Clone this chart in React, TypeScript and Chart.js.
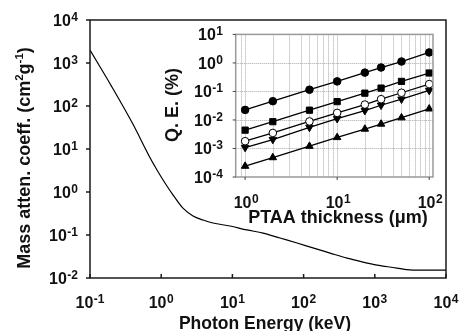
import React, { useEffect, useRef } from "react";
import { Chart, registerables } from "chart.js";
Chart.register(...registerables);

// Main curve: mass attenuation coefficient vs photon energy
const energyKeV = [0.1, 0.2, 0.4, 0.7, 0.873, 1.13, 1.47, 2.02, 2.8, 3.87, 5.34, 9.25, 16, 27, 46.7, 81, 135, 235, 407, 682, 1075, 1630, 3440, 10000];
const massAtten = [2000, 290, 38, 6.2, 3.25, 1.62, 0.85, 0.42, 0.277, 0.223, 0.19, 0.162, 0.131, 0.111, 0.085, 0.065, 0.05, 0.038, 0.029, 0.0235, 0.02, 0.018, 0.0153, 0.0153];

// Inset: Q.E. vs PTAA thickness
const thicknessUm = [1, 2, 5, 10, 20, 30, 50, 100];
const qeFilledCircle = [0.0225, 0.0455, 0.115, 0.225, 0.457, 0.69, 1.12, 2.33];
const qeFilledSquare = [0.0044, 0.0087, 0.022, 0.044, 0.087, 0.131, 0.225, 0.443];
const qeOpenCircle = [0.0018, 0.0035, 0.0089, 0.0177, 0.0347, 0.0535, 0.09, 0.181];
const qeDownTriangle = [0.00108, 0.00206, 0.0055, 0.0111, 0.0213, 0.0328, 0.0535, 0.108];
const qeUpTriangle = [0.00024, 0.00048, 0.0012, 0.00244, 0.0048, 0.0072, 0.012, 0.0245];

// Tick exponents
const mainXExp = [-1, 0, 1, 2, 3, 4];
const mainYExp = [-2, -1, 0, 1, 2, 3, 4];
const insetXExp = [0, 1, 2];
const insetYExp = [-4, -3, -2, -1, 0, 1];
const insetGridX = [0.9, 1, 2, 3, 4, 5, 6, 7, 8, 9, 10, 20, 30, 40, 50, 60, 70, 80, 90, 100];
const insetGridY = [1e-3, 1e-2, 1e-1, 1];

const FAM = '"Liberation Sans", Arial, Helvetica, sans-serif';
const TXT = "#111";

function drawPow(ctx: CanvasRenderingContext2D, exp: number, x: number, baseline: number, align: "center" | "right", baseSize = 16, expSize = 12, raise = 5) {
  const baseFont = `bold ${baseSize}px ${FAM}`;
  const expFont = `bold ${expSize}px ${FAM}`;
  ctx.font = baseFont;
  const wb = ctx.measureText("10").width;
  const es = exp < 0 ? "-" + Math.abs(exp) : String(exp);
  ctx.font = expFont;
  const we = ctx.measureText(es).width;
  const gap = 0.5;
  const w = wb + gap + we;
  const x0 = align === "center" ? x - w / 2 : x - w;
  ctx.textAlign = "left";
  ctx.textBaseline = "alphabetic";
  ctx.fillStyle = TXT;
  ctx.font = baseFont;
  ctx.fillText("10", x0, baseline);
  ctx.font = expFont;
  ctx.fillText(es, x0 + wb + gap, baseline - raise);
}

type Piece = { t: string; sup?: boolean };
function drawRotated(ctx: CanvasRenderingContext2D, pieces: Piece[], bx: number, cy: number, size: number, supSize: number, raise: number) {
  const f = `bold ${size}px ${FAM}`;
  const fs = `bold ${supSize}px ${FAM}`;
  let total = 0;
  const widths = pieces.map((p) => {
    ctx.font = p.sup ? fs : f;
    const w = ctx.measureText(p.t).width;
    total += w;
    return w;
  });
  ctx.save();
  ctx.translate(bx, cy);
  ctx.rotate(-Math.PI / 2);
  ctx.textAlign = "left";
  ctx.textBaseline = "alphabetic";
  ctx.fillStyle = TXT;
  let x = -total / 2;
  pieces.forEach((p, i) => {
    ctx.font = p.sup ? fs : f;
    ctx.fillText(p.t, x, p.sup ? -raise : 0);
    x += widths[i];
  });
  ctx.restore();
}

function seg(ctx: CanvasRenderingContext2D, x1: number, y1: number, x2: number, y2: number) {
  ctx.beginPath();
  ctx.moveTo(x1, y1);
  ctx.lineTo(x2, y2);
  ctx.stroke();
}

const mainPlugin = {
  id: "mainDeco",
  afterDraw(chart: any) {
    const { ctx, chartArea: a, scales } = chart;
    const xs = scales.x;
    const ys = scales.y;
    ctx.save();
    ctx.strokeStyle = "#1a1a1a";
    ctx.lineWidth = 1.5;
    ctx.strokeRect(a.left, a.top, a.right - a.left, a.bottom - a.top);
    mainYExp.forEach((e) => {
      const y = ys.getPixelForValue(Math.pow(10, e));
      seg(ctx, a.left - 4, y, a.left, y);
      drawPow(ctx, e, a.left - 12, y + 5.7, "right");
    });
    mainXExp.forEach((e) => {
      const x = xs.getPixelForValue(Math.pow(10, e));
      seg(ctx, x, a.bottom, x, a.bottom - 4);
      drawPow(ctx, e, x, 308, "center");
    });
    ctx.font = `bold 17.5px ${FAM}`;
    ctx.fillStyle = TXT;
    ctx.textAlign = "center";
    ctx.textBaseline = "alphabetic";
    ctx.fillText("Photon Energy (keV)", 265, 328.5);
    drawRotated(
      ctx,
      [{ t: "Mass atten. coeff. (cm" }, { t: "2", sup: true }, { t: "g" }, { t: "-1", sup: true }, { t: ")" }],
      30,
      158,
      18,
      11.5,
      7
    );
    ctx.restore();
  },
};

const insetPlugin = {
  id: "insetDeco",
  beforeDatasetsDraw(chart: any) {
    const { ctx, chartArea: a, scales } = chart;
    ctx.save();
    ctx.strokeStyle = "#a8a8a8";
    ctx.lineWidth = 1;
    ctx.setLineDash([1, 1]);
    insetGridX.forEach((v) => {
      const x = Math.round(scales.x.getPixelForValue(v)) + 0.5;
      seg(ctx, x, a.top, x, a.bottom);
    });
    insetGridY.forEach((v) => {
      const y = Math.round(scales.y.getPixelForValue(v)) + 0.5;
      seg(ctx, a.left, y, a.right, y);
    });
    ctx.restore();
  },
  afterDraw(chart: any) {
    const { ctx, chartArea: a, scales } = chart;
    ctx.save();
    ctx.strokeStyle = "#999";
    ctx.lineWidth = 1.5;
    ctx.strokeRect(a.left, a.top, a.right - a.left, a.bottom - a.top);
    ctx.strokeStyle = "#444";
    ctx.lineWidth = 1;
    insetYExp.forEach((e) => {
      const y = scales.y.getPixelForValue(Math.pow(10, e));
      seg(ctx, a.left - 3, y, a.left, y);
      drawPow(ctx, e, 223, y + 5.7, "right");
    });
    insetXExp.forEach((e) => {
      const x = scales.x.getPixelForValue(Math.pow(10, e));
      seg(ctx, x, a.bottom, x, a.bottom + 3);
      drawPow(ctx, e, x + 1, 208, "center");
    });
    ctx.font = `bold 18px ${FAM}`;
    ctx.fillStyle = TXT;
    ctx.textAlign = "center";
    ctx.textBaseline = "alphabetic";
    ctx.fillText("PTAA thickness (\u03bcm)", 338, 222.5);
    drawRotated(ctx, [{ t: "Q. E. (%)" }], 178, 105, 18, 11, 7);
    ctx.restore();
  },
};

function series(vals: number[], style: string, radius: number, bg: string, rotation = 0) {
  return {
    data: thicknessUm.map((x, i) => ({ x, y: vals[i] })),
    borderColor: "#000",
    borderWidth: 1.3,
    pointStyle: style,
    pointRadius: radius,
    pointRotation: rotation,
    pointBackgroundColor: bg,
    pointBorderColor: "#000",
    pointBorderWidth: 1,
    fill: false,
    tension: 0,
  };
}

export default function App() {
  const mainRef = useRef<HTMLCanvasElement>(null);
  const insetRef = useRef<HTMLCanvasElement>(null);

  useEffect(() => {
    const main = new Chart(mainRef.current as HTMLCanvasElement, {
      type: "line",
      data: {
        datasets: [
          {
            data: energyKeV.map((x, i) => ({ x, y: massAtten[i] })),
            borderColor: "#000",
            borderWidth: 1.2,
            pointRadius: 0,
            cubicInterpolationMode: "monotone",
            fill: false,
          } as any,
        ],
      },
      options: {
        responsive: false,
        animation: false,
        devicePixelRatio: 1,
        events: [],
        layout: { padding: { left: 0, top: 20, right: 14, bottom: 0 } },
        plugins: { legend: { display: false }, tooltip: { enabled: false } },
        scales: {
          x: {
            type: "logarithmic",
            min: 0.1,
            max: 1e4,
            grid: { display: false },
            border: { display: false },
            ticks: { display: false },
            afterFit: (s: any) => {
              s.height = 53;
            },
          },
          y: {
            type: "logarithmic",
            min: 0.01,
            max: 1e4,
            grid: { display: false },
            border: { display: false },
            ticks: { display: false },
            afterFit: (s: any) => {
              s.width = 90;
            },
          },
        },
      } as any,
      plugins: [mainPlugin],
    });

    const inset = new Chart(insetRef.current as HTMLCanvasElement, {
      type: "line",
      data: {
        datasets: [
          series(qeFilledCircle, "circle", 3.8, "#000"),
          series(qeFilledSquare, "rect", 4.4, "#000"),
          series(qeOpenCircle, "circle", 3.8, "#fff"),
          series(qeDownTriangle, "triangle", 4.3, "#000", 180),
          series(qeUpTriangle, "triangle", 4.3, "#000"),
        ] as any,
      },
      options: {
        responsive: false,
        animation: false,
        devicePixelRatio: 1,
        events: [],
        layout: { padding: { left: 150, top: 34.4, right: 27, bottom: 100 } },
        plugins: { legend: { display: false }, tooltip: { enabled: false } },
        scales: {
          x: {
            type: "logarithmic",
            min: 0.79,
            max: 110,
            grid: { display: false },
            border: { display: false },
            ticks: { display: false },
            afterFit: (s: any) => {
              s.height = 54;
            },
          },
          y: {
            type: "logarithmic",
            min: 1e-4,
            max: 10,
            grid: { display: false },
            border: { display: false },
            ticks: { display: false },
            afterFit: (s: any) => {
              s.width = 85.7;
            },
          },
        },
      } as any,
      plugins: [insetPlugin],
    });

    return () => {
      main.destroy();
      inset.destroy();
    };
  }, []);

  return (
    <div style={{ position: "fixed", left: 0, top: 0, width: 460, height: 331, background: "#fff" }}>
      <canvas ref={mainRef} width={460} height={331} style={{ position: "absolute", left: 0, top: 0 }} />
      <canvas ref={insetRef} width={460} height={331} style={{ position: "absolute", left: 0, top: 0 }} />
    </div>
  );
}
